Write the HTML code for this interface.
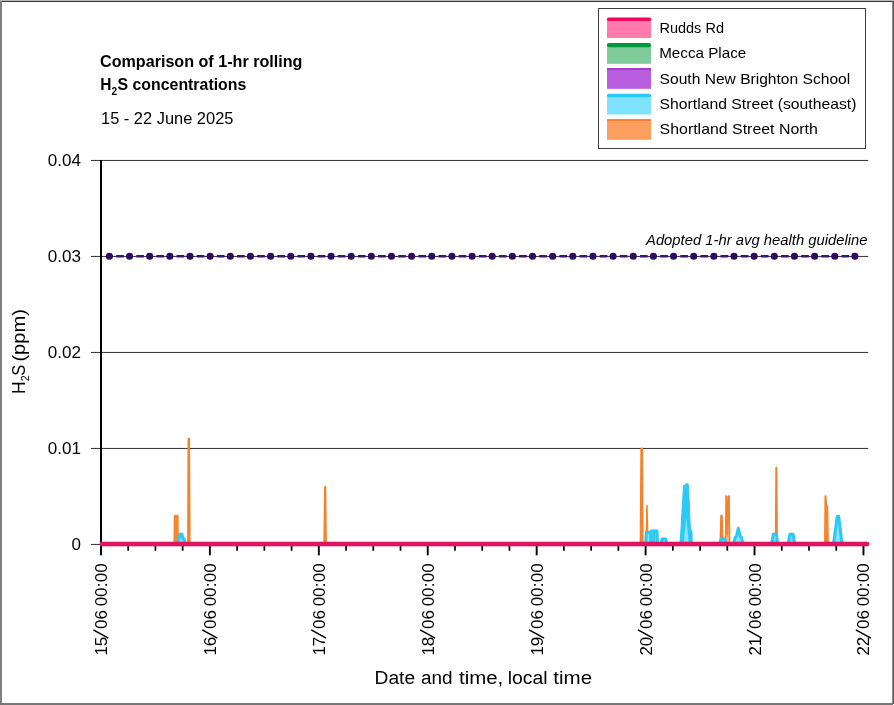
<!DOCTYPE html>
<html>
<head>
<meta charset="utf-8">
<title>Comparison of 1-hr rolling H2S concentrations</title>
<style>
html,body{margin:0;padding:0;background:#fff;}
body{width:894px;height:705px;overflow:hidden;font-family:"Liberation Sans",sans-serif;}
svg{display:block;will-change:transform;}
text{font-family:"Liberation Sans",sans-serif;fill:#000;}
</style>
</head>
<body>
<svg width="894" height="705" viewBox="0 0 894 705">
<rect x="0" y="0" width="894" height="705" fill="#ffffff"/>

<!-- gridlines -->
<g stroke="#333333" stroke-width="1">
<line x1="91" y1="160.45" x2="868.2" y2="160.45"/>
<line x1="91" y1="256.45" x2="868.2" y2="256.45"/>
<line x1="91" y1="352.45" x2="868.2" y2="352.45"/>
<line x1="91" y1="448.45" x2="868.2" y2="448.45"/>
<line x1="91" y1="544.45" x2="101" y2="544.45"/>
</g>

<!-- y axis -->
<rect x="100" y="160" width="2" height="395" fill="#000"/>

<!-- x ticks -->
<g fill="#000" id="ticks">
<rect x="100.00" y="544" width="1.9" height="11.3"/>
<rect x="127.33" y="544" width="1.7" height="6.7"/>
<rect x="154.57" y="544" width="1.7" height="6.7"/>
<rect x="181.80" y="544" width="1.7" height="6.7"/>
<rect x="208.93" y="544" width="1.9" height="11.3"/>
<rect x="236.26" y="544" width="1.7" height="6.7"/>
<rect x="263.50" y="544" width="1.7" height="6.7"/>
<rect x="290.73" y="544" width="1.7" height="6.7"/>
<rect x="317.86" y="544" width="1.9" height="11.3"/>
<rect x="345.19" y="544" width="1.7" height="6.7"/>
<rect x="372.43" y="544" width="1.7" height="6.7"/>
<rect x="399.66" y="544" width="1.7" height="6.7"/>
<rect x="426.79" y="544" width="1.9" height="11.3"/>
<rect x="454.12" y="544" width="1.7" height="6.7"/>
<rect x="481.35" y="544" width="1.7" height="6.7"/>
<rect x="508.59" y="544" width="1.7" height="6.7"/>
<rect x="535.72" y="544" width="1.9" height="11.3"/>
<rect x="563.05" y="544" width="1.7" height="6.7"/>
<rect x="590.29" y="544" width="1.7" height="6.7"/>
<rect x="617.52" y="544" width="1.7" height="6.7"/>
<rect x="644.65" y="544" width="1.9" height="11.3"/>
<rect x="671.98" y="544" width="1.7" height="6.7"/>
<rect x="699.22" y="544" width="1.7" height="6.7"/>
<rect x="726.45" y="544" width="1.7" height="6.7"/>
<rect x="753.58" y="544" width="1.9" height="11.3"/>
<rect x="780.91" y="544" width="1.7" height="6.7"/>
<rect x="808.15" y="544" width="1.7" height="6.7"/>
<rect x="835.38" y="544" width="1.7" height="6.7"/>
<rect x="862.51" y="544" width="1.9" height="11.3"/>
</g>

<!-- guideline -->
<g id="guide">
<line x1="109.4" y1="256.3" x2="854.9" y2="256.3" stroke="#3b1278" stroke-width="2.6" stroke-dasharray="7.7 12.449" stroke-dashoffset="-6.7"/>
<circle cx="109.40" cy="256.2" r="3.55" fill="#2e0a5e"/>
<circle cx="129.55" cy="256.2" r="3.55" fill="#2e0a5e"/>
<circle cx="149.70" cy="256.2" r="3.55" fill="#2e0a5e"/>
<circle cx="169.85" cy="256.2" r="3.55" fill="#2e0a5e"/>
<circle cx="189.99" cy="256.2" r="3.55" fill="#2e0a5e"/>
<circle cx="210.14" cy="256.2" r="3.55" fill="#2e0a5e"/>
<circle cx="230.29" cy="256.2" r="3.55" fill="#2e0a5e"/>
<circle cx="250.44" cy="256.2" r="3.55" fill="#2e0a5e"/>
<circle cx="270.59" cy="256.2" r="3.55" fill="#2e0a5e"/>
<circle cx="290.74" cy="256.2" r="3.55" fill="#2e0a5e"/>
<circle cx="310.89" cy="256.2" r="3.55" fill="#2e0a5e"/>
<circle cx="331.04" cy="256.2" r="3.55" fill="#2e0a5e"/>
<circle cx="351.18" cy="256.2" r="3.55" fill="#2e0a5e"/>
<circle cx="371.33" cy="256.2" r="3.55" fill="#2e0a5e"/>
<circle cx="391.48" cy="256.2" r="3.55" fill="#2e0a5e"/>
<circle cx="411.63" cy="256.2" r="3.55" fill="#2e0a5e"/>
<circle cx="431.78" cy="256.2" r="3.55" fill="#2e0a5e"/>
<circle cx="451.93" cy="256.2" r="3.55" fill="#2e0a5e"/>
<circle cx="472.08" cy="256.2" r="3.55" fill="#2e0a5e"/>
<circle cx="492.22" cy="256.2" r="3.55" fill="#2e0a5e"/>
<circle cx="512.37" cy="256.2" r="3.55" fill="#2e0a5e"/>
<circle cx="532.52" cy="256.2" r="3.55" fill="#2e0a5e"/>
<circle cx="552.67" cy="256.2" r="3.55" fill="#2e0a5e"/>
<circle cx="572.82" cy="256.2" r="3.55" fill="#2e0a5e"/>
<circle cx="592.97" cy="256.2" r="3.55" fill="#2e0a5e"/>
<circle cx="613.12" cy="256.2" r="3.55" fill="#2e0a5e"/>
<circle cx="633.26" cy="256.2" r="3.55" fill="#2e0a5e"/>
<circle cx="653.41" cy="256.2" r="3.55" fill="#2e0a5e"/>
<circle cx="673.56" cy="256.2" r="3.55" fill="#2e0a5e"/>
<circle cx="693.71" cy="256.2" r="3.55" fill="#2e0a5e"/>
<circle cx="713.86" cy="256.2" r="3.55" fill="#2e0a5e"/>
<circle cx="734.01" cy="256.2" r="3.55" fill="#2e0a5e"/>
<circle cx="754.16" cy="256.2" r="3.55" fill="#2e0a5e"/>
<circle cx="774.31" cy="256.2" r="3.55" fill="#2e0a5e"/>
<circle cx="794.45" cy="256.2" r="3.55" fill="#2e0a5e"/>
<circle cx="814.60" cy="256.2" r="3.55" fill="#2e0a5e"/>
<circle cx="834.75" cy="256.2" r="3.55" fill="#2e0a5e"/>
<circle cx="854.90" cy="256.2" r="3.55" fill="#2e0a5e"/>
</g>

<!-- orange series -->
<g fill="#f6892f" stroke="#f4822c" stroke-width="1.5" stroke-linejoin="round">
<polygon points="174.2,544 174.5,515.4 175.1,515.4 176.1,517.5 177.1,515.4 177.8,515.4 178.2,544"/>
<polygon points="187.8,544 188.3,438.6 189.3,438.6 189.9,544"/>
<polygon points="324,544 324.8,486.7 325.5,486.7 326.2,544"/>
<polygon points="640.4,544 641.1,448.3 642.3,448.3 642.9,544"/>
<polygon points="646.2,544 646.9,505.5 648,544"/>
<polygon points="720.2,544 721,515.4 722,515.4 722.9,544"/>
<polygon points="725.6,544 726,495.9 726.7,495.9 727.5,535 728.5,495.9 729.2,495.9 729.6,544" fill="#fbb47c"/>
<polygon points="775.5,544 776.1,467.6 776.7,467.6 777.2,544"/>
<polygon points="824.8,544 825.2,495.9 825.7,495.9 826.6,505.9 827.4,505.9 828.2,544"/>
</g>

<!-- cyan series -->
<g fill="#86e2fb" stroke="#2cc8f6" stroke-width="3" stroke-linejoin="round">
<polygon points="177.5,544 178.5,539.5 180.6,533.9 181.9,533.9 183,538.5 184.3,539 184.7,544"/>
<polygon points="645.7,544 646.2,532.5 650.5,532.5 651.3,531 657,531 657.5,544"/>
<polyline points="650.8,544 650.8,533.5" fill="none"/>
<polyline points="653.8,544 653.8,532" fill="none"/>
<polygon points="661.2,544 662,538.9 665.9,538.9 666.6,544"/>
<polygon points="720.2,544 721,539.1 724.8,539.1 725.5,544"/>
<polygon points="733.4,544 735.2,537.5 736.5,536 738.3,528.3 740.2,536 741.5,537.5 743.1,544"/>
<polygon points="771.6,544 773.2,534.3 776.5,534.3 777.6,544"/>
<polygon points="788.3,544 789.9,534.3 793.1,534.3 794.7,544"/>
<polygon points="833.5,544 837.2,516.6 838.7,516.6 842.1,544"/>
</g>
<polygon points="679.9,544 680.8,532 683.5,486.4 683.9,485.2 685.2,485.2 685.9,483.7 687.7,483.6 688.5,485.3 690.3,528 691.3,530.4 692.1,533 692.1,544" fill="#2cc8f6" stroke="#2cc8f6" stroke-width="1" stroke-linejoin="round"/>
<polygon points="683.7,544 686,519.5 686.6,519.5 688.8,544" fill="#8ee2fa"/>

<!-- pink zero line -->
<rect x="99.8" y="541.7" width="767" height="4.6" fill="#de1460"/>
<circle cx="867.2" cy="544" r="2.3" fill="#de1460"/>

<!-- legend -->
<rect x="598.5" y="8.5" width="267" height="140" fill="#fff" stroke="#404040" stroke-width="1"/>
<g>
<rect x="607" y="19" width="44" height="19" fill="#ff7bac"/>
<line x1="608.7" y1="19.3" x2="649.3" y2="19.3" stroke="#f0055f" stroke-width="3.6" stroke-linecap="round"/>
<rect x="607" y="44.5" width="44" height="19.3" fill="#7fcc9a"/>
<line x1="609" y1="45.1" x2="649" y2="45.1" stroke="#00983d" stroke-width="4.2" stroke-linecap="round"/>
<rect x="607" y="68.2" width="44" height="20.6" fill="#ba5ee0"/>
<rect x="607" y="68.2" width="44" height="1.5" fill="#9b30c8"/>
<rect x="607" y="95" width="44" height="19.5" fill="#7fe3fd"/>
<line x1="608.7" y1="95.5" x2="649.3" y2="95.5" stroke="#29c8f5" stroke-width="3.6" stroke-linecap="round"/>
<rect x="607" y="119.2" width="44" height="20.6" fill="#fca060"/>
<rect x="607" y="119.2" width="44" height="1.9" fill="#f08030"/>
</g>
<g font-size="15" lengthAdjust="spacingAndGlyphs">
<text x="659.4" y="32.5" textLength="64.6" lengthAdjust="spacingAndGlyphs">Rudds Rd</text>
<text x="659.2" y="58.2" textLength="87" lengthAdjust="spacingAndGlyphs">Mecca Place</text>
<text x="659.6" y="83.5" textLength="190.6" lengthAdjust="spacingAndGlyphs">South New Brighton School</text>
<text x="659.6" y="108.5" textLength="196.8" lengthAdjust="spacingAndGlyphs">Shortland Street (southeast)</text>
<text x="659.6" y="134.4" textLength="158.2" lengthAdjust="spacingAndGlyphs">Shortland Street North</text>
</g>

<!-- title -->
<g font-size="16.2" font-weight="bold">
<text x="100" y="66.8" textLength="202.4" lengthAdjust="spacingAndGlyphs">Comparison of 1-hr rolling</text>
<text x="100.2" y="89.6" textLength="11.2" lengthAdjust="spacingAndGlyphs">H</text>
<text x="111.6" y="95" font-size="10" textLength="5.6" lengthAdjust="spacingAndGlyphs">2</text>
<text x="117.5" y="89.6" textLength="128.8" lengthAdjust="spacingAndGlyphs">S concentrations</text>
</g>
<text x="101" y="123.5" font-size="17" textLength="132.4" lengthAdjust="spacingAndGlyphs">15 - 22 June 2025</text>

<!-- y tick labels -->
<g font-size="17" text-anchor="end">
<text x="81" y="166.1" textLength="33.2" lengthAdjust="spacingAndGlyphs">0.04</text>
<text x="81" y="262.1" textLength="33.2" lengthAdjust="spacingAndGlyphs">0.03</text>
<text x="81" y="358.1" textLength="33.2" lengthAdjust="spacingAndGlyphs">0.02</text>
<text x="81" y="454.1" textLength="33.2" lengthAdjust="spacingAndGlyphs">0.01</text>
<text x="81" y="550.1">0</text>
</g>

<!-- y axis title -->
<g transform="translate(25.2,393.6) rotate(-90)" font-size="18.4">
<text x="-0.4" y="0" textLength="12.6" lengthAdjust="spacingAndGlyphs">H</text>
<text x="12.3" y="4.2" font-size="11.5" textLength="6" lengthAdjust="spacingAndGlyphs">2</text>
<text x="17.8" y="0" textLength="11" lengthAdjust="spacingAndGlyphs">S</text>
<text x="32" y="0" textLength="52.5" lengthAdjust="spacingAndGlyphs">(ppm)</text>
</g>

<!-- guideline label -->
<text x="646" y="244.5" font-size="14.5" font-style="italic" textLength="221.6" lengthAdjust="spacingAndGlyphs">Adopted 1-hr avg health guideline</text>

<!-- x tick labels -->
<g font-size="17" id="xlabels">
<g transform="translate(106.95,655.7) rotate(-90)"><text x="0.1" y="0">15</text><line x1="17.5" y1="1.4" x2="25.9" y2="-13.6" stroke="#000" stroke-width="1.5"/><text x="26.75" y="0">06</text><text x="49.35" y="0">00</text><text x="68.5" y="0">:</text><text x="73.45" y="0">00</text></g>
<g transform="translate(215.88,655.7) rotate(-90)"><text x="0.1" y="0">16</text><line x1="17.5" y1="1.4" x2="25.9" y2="-13.6" stroke="#000" stroke-width="1.5"/><text x="26.75" y="0">06</text><text x="49.35" y="0">00</text><text x="68.5" y="0">:</text><text x="73.45" y="0">00</text></g>
<g transform="translate(324.81,655.7) rotate(-90)"><text x="0.1" y="0">17</text><line x1="17.5" y1="1.4" x2="25.9" y2="-13.6" stroke="#000" stroke-width="1.5"/><text x="26.75" y="0">06</text><text x="49.35" y="0">00</text><text x="68.5" y="0">:</text><text x="73.45" y="0">00</text></g>
<g transform="translate(433.74,655.7) rotate(-90)"><text x="0.1" y="0">18</text><line x1="17.5" y1="1.4" x2="25.9" y2="-13.6" stroke="#000" stroke-width="1.5"/><text x="26.75" y="0">06</text><text x="49.35" y="0">00</text><text x="68.5" y="0">:</text><text x="73.45" y="0">00</text></g>
<g transform="translate(542.67,655.7) rotate(-90)"><text x="0.1" y="0">19</text><line x1="17.5" y1="1.4" x2="25.9" y2="-13.6" stroke="#000" stroke-width="1.5"/><text x="26.75" y="0">06</text><text x="49.35" y="0">00</text><text x="68.5" y="0">:</text><text x="73.45" y="0">00</text></g>
<g transform="translate(651.60,655.7) rotate(-90)"><text x="0.1" y="0">20</text><line x1="17.5" y1="1.4" x2="25.9" y2="-13.6" stroke="#000" stroke-width="1.5"/><text x="26.75" y="0">06</text><text x="49.35" y="0">00</text><text x="68.5" y="0">:</text><text x="73.45" y="0">00</text></g>
<g transform="translate(760.53,655.7) rotate(-90)"><text x="0.1" y="0">21</text><line x1="17.5" y1="1.4" x2="25.9" y2="-13.6" stroke="#000" stroke-width="1.5"/><text x="26.75" y="0">06</text><text x="49.35" y="0">00</text><text x="68.5" y="0">:</text><text x="73.45" y="0">00</text></g>
<g transform="translate(869.46,655.7) rotate(-90)"><text x="0.1" y="0">22</text><line x1="17.5" y1="1.4" x2="25.9" y2="-13.6" stroke="#000" stroke-width="1.5"/><text x="26.75" y="0">06</text><text x="49.35" y="0">00</text><text x="68.5" y="0">:</text><text x="73.45" y="0">00</text></g>
</g>

<!-- x axis title -->
<g font-size="18" lengthAdjust="spacingAndGlyphs">
<text x="374.5" y="684.3" textLength="40.6" lengthAdjust="spacingAndGlyphs">Date</text>
<text x="421" y="684.3" textLength="31.6" lengthAdjust="spacingAndGlyphs">and</text>
<text x="459" y="684.3" textLength="44.3" lengthAdjust="spacingAndGlyphs">time,</text>
<text x="507.7" y="684.3" textLength="39.9" lengthAdjust="spacingAndGlyphs">local</text>
<text x="553.3" y="684.3" textLength="38.8" lengthAdjust="spacingAndGlyphs">time</text>
</g>

<!-- outer border -->
<rect x="0" y="0" width="894" height="1" fill="#b8b8b8"/>
<rect x="0" y="1" width="893" height="1" fill="#3c3c3c"/>
<rect x="0" y="1" width="2" height="704" fill="#808080"/>
<rect x="892.3" y="1" width="1.7" height="703" fill="#5a5a5a"/>
<rect x="0" y="703" width="893" height="2" fill="#767676"/>
</svg>
</body>
</html>
